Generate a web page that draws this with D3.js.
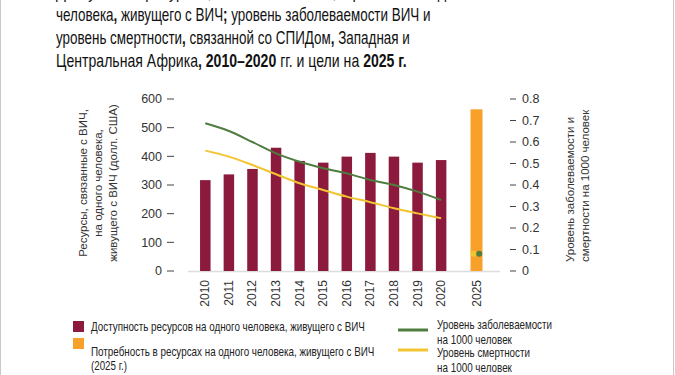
<!DOCTYPE html>
<html>
<head>
<meta charset="utf-8">
<script src="https://cdn.jsdelivr.net/npm/d3@7"></script>
<style>
  body { margin: 0; background: #fff; }
  svg { display: block; }
  .cond { font-family: "Liberation Sans", Arial, sans-serif; }
  .ax { font-family: "Liberation Sans", Arial, sans-serif; fill: #333; }
</style>
</head>
<body>
<svg id="chart" width="675" height="375"></svg>
<script>
// years and values
var years = ["2010","2011","2012","2013","2014","2015","2016","2017","2018","2019","2020"];
var resources = [317, 337, 356, 430, 384, 378, 399, 412, 399, 378, 387];
var incidence = [0.687, 0.651, 0.600, 0.547, 0.508, 0.478, 0.454, 0.423, 0.400, 0.369, 0.330];
var mortality = [0.560, 0.532, 0.493, 0.450, 0.408, 0.377, 0.346, 0.320, 0.292, 0.268, 0.245];
var targetYear = "2025";
var targetResources = 564;
var targetIncidence = 0.08;
var targetMortality = 0.08;
var leftTicks = [0, 100, 200, 300, 400, 500, 600];
var rightTicks = [0, 0.1, 0.2, 0.3, 0.4, 0.5, 0.6, 0.7, 0.8];

var titleLines = [
  [["Доступность ресурсов, связанных с ВИЧ, в расчете на одного", false]],
  [["человека", false], [",", true], [" живущего с ВИЧ", false], [";", true], [" уровень заболеваемости ВИЧ и", false]],
  [["уровень смертности", false], [",", true], [" связанной со СПИДом", false], [",", true], [" Западная и", false]],
  [["Центральная Африка", false], [", 2010–2020", true], [" гг. и цели на ", false], ["2025", true], [" г.", true]]
];
var titleWidths = [420, 375, 354, 351];

var COLORS = { bar: "#8C1A3D", target: "#F7A12B", inc: "#4E7D3F", mort: "#F2C431" };

var svg = d3.select("#chart");

// squeeze a text horizontally so it looks like the condensed face
function squeeze(t, x0, y0, w) {
  var len = t.node().getComputedTextLength();
  t.attr("transform", "translate(" + x0 + "," + y0 + ") scale(" + (w / len) + ",1)");
}

// frame
svg.append("line").attr("x1", 0.5).attr("x2", 0.5).attr("y1", 0).attr("y2", 375).attr("stroke", "#c8c8c8");
svg.append("line").attr("x1", 673.5).attr("x2", 673.5).attr("y1", 0).attr("y2", 375).attr("stroke", "#c8c8c8");

// title
titleLines.forEach(function (line, i) {
  var t = svg.append("text").attr("class", "cond").attr("font-size", 17.5).attr("fill", "#111");
  line.forEach(function (part) {
    t.append("tspan").text(part[0]).attr("font-weight", part[1] ? "bold" : "normal");
  });
  squeeze(t, 56, -2 + i * 23, titleWidths[i]);
});

// scales
var idx = function (y) { return y === targetYear ? 11.5 : years.indexOf(y); };
var x = d3.scaleLinear().domain([0, 11.5]).range([205.3, 476.5]);
var yL = d3.scaleLinear().domain([0, 600]).range([271, 99]);
var yR = d3.scaleLinear().domain([0, 0.8]).range([271, 99]);

// left axis
var la = svg.append("g");
leftTicks.forEach(function (v) {
  la.append("line").attr("x1", 167).attr("x2", 174).attr("y1", yL(v)).attr("y2", yL(v)).attr("stroke", "#444");
  la.append("text").attr("class", "ax").attr("x", 162).attr("y", yL(v)).attr("dy", "0.35em")
    .attr("text-anchor", "end").attr("font-size", 12.5).text(v);
});

// right axis
rightTicks.forEach(function (v) {
  la.append("line").attr("x1", 510).attr("x2", 516).attr("y1", yR(v)).attr("y2", yR(v)).attr("stroke", "#444");
  la.append("text").attr("class", "ax").attr("x", 522).attr("y", yR(v)).attr("dy", "0.35em")
    .attr("font-size", 12.5).text(d3.format(".1~f")(v));
});

// baseline
svg.append("line").attr("x1", 188).attr("x2", 500).attr("y1", 271.5).attr("y2", 271.5).attr("stroke", "#ddd").attr("stroke-width", 1.5);

// axis titles
var lt = svg.append("text").attr("class", "ax").attr("font-size", 11.5).attr("text-anchor", "middle")
  .attr("transform", "translate(0,183) rotate(-90)");
["Ресурсы, связанные с ВИЧ,", "на одного человека,", "живущего с ВИЧ (долл. США)"].forEach(function (s, i) {
  lt.append("tspan").attr("x", 0).attr("y", 87 + i * 15).text(s);
});
var rt = svg.append("text").attr("class", "ax").attr("font-size", 11.5)
  .attr("transform", "translate(0,262) rotate(-90)");
["Уровень заболеваемости и", "смертности на 1000 человек"].forEach(function (s, i) {
  rt.append("tspan").attr("x", 0).attr("y", 574 + i * 15).text(s);
});

// bars
svg.selectAll("rect.bar").data(years).enter().append("rect")
  .attr("class", "bar")
  .attr("x", function (d) { return x(idx(d)) - 5.25; })
  .attr("width", 10.5)
  .attr("y", function (d, i) { return yL(resources[i]); })
  .attr("height", function (d, i) { return yL(0) - yL(resources[i]); })
  .attr("fill", COLORS.bar);

svg.append("rect")
  .attr("x", x(idx(targetYear)) - 6).attr("width", 12)
  .attr("y", yL(targetResources)).attr("height", yL(0) - yL(targetResources))
  .attr("fill", COLORS.target);

// lines
var line = d3.line()
  .x(function (d, i) { return x(i); })
  .y(function (d) { return yR(d); })
  .curve(d3.curveMonotoneX);
svg.append("path").attr("d", line(incidence)).attr("fill", "none").attr("stroke", COLORS.inc).attr("stroke-width", 2);
svg.append("path").attr("d", line(mortality)).attr("fill", "none").attr("stroke", COLORS.mort).attr("stroke-width", 2);

// targets
svg.append("circle").attr("cx", x(idx(targetYear)) - 3).attr("cy", yR(targetMortality)).attr("r", 3).attr("fill", COLORS.mort);
svg.append("circle").attr("cx", x(idx(targetYear)) + 2.7).attr("cy", yR(targetIncidence)).attr("r", 3).attr("fill", COLORS.inc);

// x labels
years.concat([targetYear]).forEach(function (d) {
  svg.append("text").attr("class", "ax").attr("font-size", 12)
    .attr("text-anchor", "end")
    .attr("transform", "translate(" + (x(idx(d)) + 4) + ",280) rotate(-90)")
    .text(d);
});

// legend
var legendTexts = [
  ["Доступность ресурсов на одного человека, живущего с ВИЧ", 91, 331, 274],
  ["Потребность в ресурсах на одного человека, живущего с ВИЧ", 91, 356, 284],
  ["(2025 г.)", 91, 370, 36],
  ["Уровень заболеваемости", 437, 329, 115],
  ["на 1000 человек", 437, 344, 75],
  ["Уровень смертности", 437, 357, 93],
  ["на 1000 человек", 437, 372, 75]
];
var lg = svg.append("g");
lg.append("rect").attr("x", 73).attr("y", 321).attr("width", 11).attr("height", 11).attr("fill", COLORS.bar);
lg.append("rect").attr("x", 73).attr("y", 338).attr("width", 11).attr("height", 11).attr("fill", COLORS.target);
lg.append("line").attr("x1", 398).attr("x2", 428).attr("y1", 330).attr("y2", 330).attr("stroke", COLORS.inc).attr("stroke-width", 3);
lg.append("line").attr("x1", 398).attr("x2", 428).attr("y1", 350).attr("y2", 350).attr("stroke", COLORS.mort).attr("stroke-width", 3);
legendTexts.forEach(function (d) {
  var t = lg.append("text").attr("class", "cond").attr("font-size", 13).attr("fill", "#222").text(d[0]);
  squeeze(t, d[1], d[2], d[3]);
});
</script>
</body>
</html>
